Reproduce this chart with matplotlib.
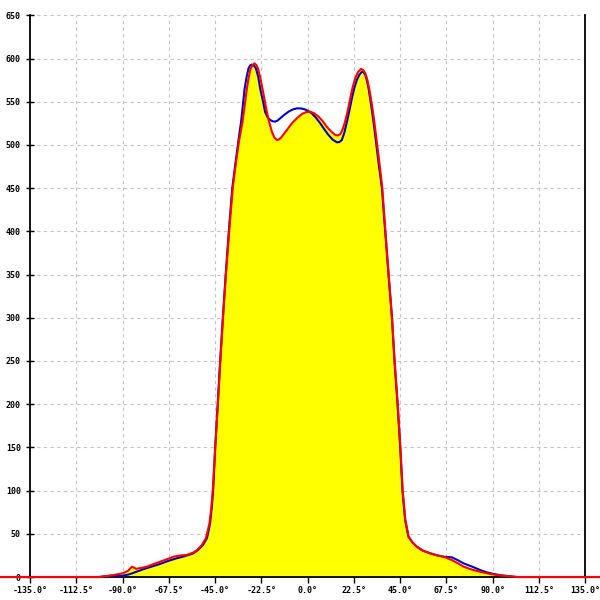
import matplotlib
matplotlib.use("Agg")
import matplotlib.pyplot as plt

# Kurve 1 (blau)
blue_deg = [-150, -102, -96, -90, -87, -84, -80, -76, -72, -68, -64, -60, -56, -53.5,
            -51, -49, -47.5, -46.7, -46.0, -45.0, -43.8, -42.6, -41.3, -39.9, -38.4,
            -36.7, -35.1, -33.7, -32.4, -31.5, -30.7, -29.7, -28.8, -28.0, -27.2, -26.3,
            -25.2, -24.1, -23.1, -21.8, -20.7, -19.3, -18.2, -17.0, -15.8, -14.6, -13.4,
            -11.3, -9.3, -7.3, -5.3, -3.2, -1.2, 0.4, 2.0, 4.0, 6.1, 8.1, 10.1, 12.2,
            14.2, 15.4, 16.6, 17.8, 19.1, 20.3, 21.5, 22.7, 23.9, 25.2, 26.4, 27.2, 28.0,
            28.8, 29.6, 30.8, 32.0, 33.2, 34.4, 36.1, 37.7, 39.3, 41.0, 42.2, 43.7, 45.0,
            46.1, 47.4, 49.0, 51, 53.1, 56, 59.6, 63, 66.1, 70.1, 73, 75.8, 80, 83.9, 87,
            90.4, 94, 96.9, 101.8, 145]
blue_val = [0, 0, 1.5, 1.5, 3, 5.5, 9, 12, 15, 18.5, 21.5, 24, 27, 31,
            37, 45, 62, 80, 100, 150, 200, 250, 300, 350, 400,
            450, 480, 505, 527, 547, 565, 579, 588.6, 592, 593, 592,
            588.6, 579, 565, 551, 538, 531, 528.8, 527.3, 527, 528.3, 530.8,
            535, 538.5, 541, 542.3, 542.2, 541, 539, 536.5, 531.5, 525, 518, 511.5, 506,
            503, 503.3, 505.7, 514, 527, 540, 554, 566, 575, 581.5, 584.7, 584, 581,
            574.5, 565.5, 547, 527, 504, 480.6, 450, 400, 350, 300, 250, 200, 150,
            100, 66, 46.6, 40, 35, 30.5, 27.4, 25, 23.5, 22.8, 19.5, 15.8, 12, 8.1, 5.5,
            3.5, 2, 1.2, 0, 0]

# Kurve 2 (rot)
red_deg = [-150, -101, -95, -90, -87.5, -85.5, -83.5, -81, -78.2, -75, -71.8, -68, -65.3,
           -62, -58.8, -56, -53.9, -51.5, -49.5, -47.8, -46.9, -46.2, -45.0, -43.7, -42.5,
           -41.2, -39.8, -38.2, -36.5, -34.9, -33.4, -31.7, -30.6, -29.6, -28.8, -28.0,
           -27.0, -25.9, -25.0, -24.2, -23.1, -22.0, -20.9, -19.9, -18.6, -17.4, -16.2,
           -15.0, -13.8, -12.6, -10.2, -7.7, -5.2, -2.8, -0.8, 1.2, 3.2, 5.3, 7.3, 9.3,
           11.4, 13.4, 14.6, 15.8, 17.0, 18.2, 19.5, 20.7, 21.9, 23.1, 24.5, 26.0, 27.0,
           28.0, 29.0, 29.9, 31.2, 32.4, 33.6, 34.8, 36.3, 37.8, 39.4, 41.0, 42.3, 43.8,
           45.1, 46.2, 47.5, 49.1, 51, 53.1, 56, 59.6, 63, 66.1, 70.1, 73, 75.8, 80,
           83.9, 88.8, 93, 96.9, 101.8, 145]
red_val = [0, 0, 2, 4.3, 7, 12, 9.5, 10.5, 12, 15, 17.7, 21, 23.5,
           25, 25.5, 28, 31, 37, 45, 62, 80, 100, 150, 200, 250,
           300, 350, 400, 450, 480, 505, 527, 547, 565, 577, 586.7,
           592, 594.4, 592.5, 588.6, 578, 565, 551, 538.5, 525, 515, 508.5,
           505.7, 506.5, 509.5, 517, 525, 531, 535.8, 538, 538.5, 536.5, 532.6, 527.5, 521,
           515.5, 511.5, 511, 512.3, 518, 527, 540, 554, 567, 577, 584.5, 588, 586.5,
           583, 575.5, 565.5, 547, 527, 504, 480.6, 450, 400, 350, 300, 250, 200,
           150, 100, 66, 46.6, 40, 35, 30.5, 27.4, 25, 23.5, 19.7, 16, 12, 8.5,
           6.1, 3.5, 2, 1.2, 0, 0]

x_ticks = [-135.0, -112.5, -90.0, -67.5, -45.0, -22.5, 0.0, 22.5, 45.0, 67.5, 90.0, 112.5, 135.0]
y_ticks = [0, 50, 100, 150, 200, 250, 300, 350, 400, 450, 500, 550, 600, 650]

fig = plt.figure(figsize=(6, 6), dpi=100)
ax = fig.add_axes([0, 0, 1, 1])
ax.set_xlim(-149.7, 142.2)
ax.set_ylim(-26.6, 667.7)

# Gitter
ax.hlines(y_ticks[1:], x_ticks[0], x_ticks[-1], colors='#c4c4c4', linewidth=0.8,
          linestyles=(0, (3, 3)), zorder=0)
ax.vlines(x_ticks[1:-1], y_ticks[0], y_ticks[-1], colors='#c4c4c4', linewidth=0.8,
          linestyles=(0, (3, 3)), zorder=0)

ax.fill_between(red_deg, red_val, 0, color='#ffff00', linewidth=0, zorder=1)
ax.plot(blue_deg, blue_val, color='#0000cc', linewidth=1.5, zorder=3)
ax.plot(red_deg, red_val, color='#ff0000', linewidth=1.5, zorder=4)

# Achsen
ax.spines['top'].set_visible(False)
ax.spines['left'].set_position(('data', -135))
ax.spines['right'].set_position(('data', 135))
ax.spines['bottom'].set_position(('data', 0))
for s in ['left', 'right']:
    ax.spines[s].set_bounds(0, 650)
    ax.spines[s].set_linewidth(1.3)
ax.spines['bottom'].set_linewidth(1.3)

ax.set_xticks(x_ticks)
ax.set_xticklabels([f'{v:.1f}°' for v in x_ticks])
ax.set_yticks(y_ticks)
ax.set_yticklabels([str(v) for v in y_ticks])
ax.tick_params(axis='x', direction='out', length=4.5, width=1, pad=2,
               labelsize=6, colors='black')
ax.tick_params(axis='y', direction='inout', length=5.5, width=1, pad=4,
               labelsize=6, colors='black')
for lbl in ax.get_xticklabels() + ax.get_yticklabels():
    lbl.set_family('DejaVu Sans Mono')
    lbl.set_fontweight('bold')

fig.savefig('out.png', dpi=100)
